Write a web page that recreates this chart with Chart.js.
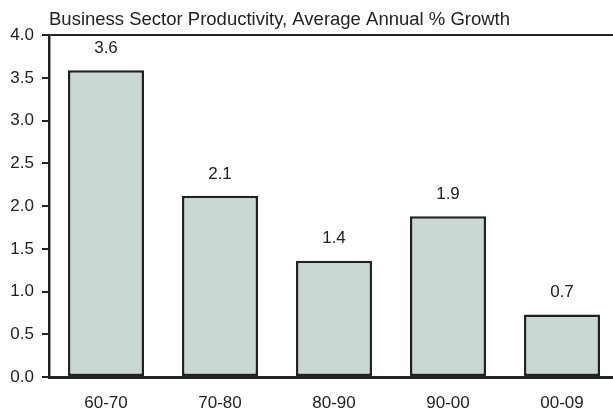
<!DOCTYPE html>
<html>
<head>
<meta charset="utf-8">
<script src="https://cdn.jsdelivr.net/npm/chart.js@4.4.1/dist/chart.umd.min.js"></script>
<style>
  html, body { margin: 0; padding: 0; overflow: hidden; background: #ffffff; }
  #wrap { position: relative; width: 620px; height: 414px; }
</style>
</head>
<body>
<div id="wrap"><canvas id="c"></canvas></div>
<script>
const titleText = 'Business Sector Productivity, Average Annual % Growth';
const categories = ['60-70', '70-80', '80-90', '90-00', '00-09'];
const values = [3.59, 2.12, 1.36, 1.88, 0.73];
const valueLabels = ['3.6', '2.1', '1.4', '1.9', '0.7'];
const yTicks = [0, 0.5, 1.0, 1.5, 2.0, 2.5, 3.0, 3.5, 4.0];

const FONT = "'Liberation Sans', Arial, sans-serif";
const INK = '#222222';

const valueLabelPlugin = {
  id: 'valueLabels',
  afterDatasetsDraw(chart) {
    const ctx = chart.ctx;
    const meta = chart.getDatasetMeta(0);
    ctx.save();
    ctx.font = '17px ' + FONT;
    ctx.fillStyle = INK;
    ctx.textAlign = 'center';
    ctx.textBaseline = 'middle';
    meta.data.forEach((bar, i) => {
      ctx.fillText(valueLabels[i], bar.x, bar.y - 22);
    });
    ctx.restore();
  }
};

new Chart(document.getElementById('c'), {
  type: 'bar',
  data: {
    labels: categories,
    datasets: [{
      data: values,
      backgroundColor: '#c9d9d1',
      borderColor: INK,
      borderWidth: 2.5,
      borderSkipped: false,
      categoryPercentage: 1.0,
      barPercentage: 0.667
    }]
  },
  options: {
    responsive: true,
    maintainAspectRatio: false,
    animation: false,
    layout: { padding: { left: 0, right: 1, top: 0, bottom: 3 } },
    plugins: {
      legend: { display: false },
      tooltip: { enabled: false },
      title: {
        display: true,
        text: titleText,
        align: 'start',
        fullSize: false,
        color: INK,
        font: { family: FONT, size: 18.5, weight: 'normal' },
        padding: { top: 9, bottom: 4 }
      }
    },
    scales: {
      x: {
        afterFit(scale) { scale.height = 34; },
        grid: { display: false, drawTicks: false },
        border: { display: true, color: INK, width: 3 },
        ticks: { color: INK, font: { family: FONT, size: 17 }, padding: 16 }
      },
      y: {
        min: 0,
        max: 4,
        afterBuildTicks(scale) { scale.ticks = yTicks.map(v => ({ value: v })); },
        afterFit(scale) { scale.width = 49; },
        grid: {
          drawOnChartArea: true,
          color: (c) => (c.tick && c.tick.value === 4 ? INK : 'rgba(0,0,0,0)'),
          lineWidth: 2,
          tickColor: INK,
          tickLength: 7,
          tickWidth: 2
        },
        border: { display: true, color: INK, width: 2.5 },
        ticks: {
          color: INK,
          font: { family: FONT, size: 17 },
          padding: 8,
          callback: (v) => Number(v).toFixed(1)
        }
      }
    }
  },
  plugins: [valueLabelPlugin]
});
</script>
</body>
</html>
